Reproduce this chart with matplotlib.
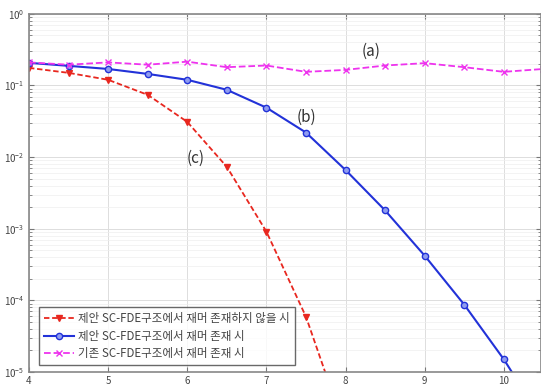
import matplotlib
matplotlib.use('Agg')
import matplotlib.pyplot as plt
import numpy as np

plt.rcParams['font.family'] = ['Noto Sans CJK KR', 'DejaVu Sans']

# SNR (dB) 축
snr = [4, 4.5, 5, 5.5, 6, 6.5, 7, 7.5, 8, 8.5, 9, 9.5, 10, 10.5]

# (a) 기존 SC-FDE구조에서 재머 존재 시
ber_a = [0.21, 0.195, 0.21, 0.195, 0.215, 0.18, 0.19, 0.155, 0.165, 0.19, 0.205, 0.18, 0.155, 0.17]
# (b) 제안 SC-FDE구조에서 재머 존재 시
ber_b = [0.207, 0.188, 0.17, 0.145, 0.12, 0.087, 0.049, 0.022, 0.0066, 0.0018, 4.2e-4, 8.7e-5, 1.5e-5, 2.0e-6]
# (c) 제안 SC-FDE구조에서 재머 존재하지 않을 시
snr_c = [4, 4.5, 5, 5.5, 6, 6.5, 7, 7.5, 8]
ber_c = [0.176, 0.15, 0.12, 0.074, 0.031, 0.0073, 9.1e-4, 5.9e-5, 1.5e-6]

labels = ['제안 SC-FDE구조에서 재머 존재하지 않을 시',
          '제안 SC-FDE구조에서 재머 존재 시',
          '기존 SC-FDE구조에서 재머 존재 시']

fig = plt.figure(figsize=(5.41, 3.85), dpi=100)
ax = fig.add_axes([0.0536, 0.034, 0.9464, 0.930])

ax.semilogy(snr_c, ber_c, linestyle=(0, (3, 1.5)), color='#e8271f', marker='v', markersize=4.5,
            markerfacecolor='#e8271f', linewidth=1.3, label=labels[0])
ax.semilogy(snr, ber_b, '-', color='#2232d8', marker='o', markersize=4.5,
            markerfacecolor='#8f9cf0', linewidth=1.5, label=labels[1])
ax.semilogy(snr, ber_a, '--', color='#ee33ee', marker='x', markersize=4.5,
            linewidth=1.3, label=labels[2])

ax.set_xlim(4, 10.47)
ax.set_ylim(1e-5, 1)
ax.set_xticks([4, 5, 6, 7, 8, 9, 10])
ax.grid(True, which='major', color='#dddddd', linewidth=0.7)
ax.grid(True, which='minor', color='#eeeeee', linewidth=0.5)
ax.tick_params(which='both', direction='in', top=True, right=True,
               labelsize=7, labelcolor='#444444', color='#777777')
ax.tick_params(axis='x', pad=3)
for s in ax.spines.values():
    s.set_color('#888888')
    s.set_linewidth(1.2)

ax.text(8.32, 0.26, '(a)', fontsize=11, color='#333333', ha='center')
ax.text(7.50, 0.031, '(b)', fontsize=11, color='#333333', ha='center')
ax.text(6.11, 0.0082, '(c)', fontsize=11, color='#333333', ha='center')

leg = ax.legend(loc='lower left', bbox_to_anchor=(0.019, 0.018),
                frameon=True, fancybox=False, edgecolor='#444444',
                handlelength=2.6, borderpad=0.45, labelspacing=0.4,
                handletextpad=0.4, borderaxespad=0,
                prop={'family': ['Noto Sans CJK KR', 'DejaVu Sans'], 'size': 8.3})
leg.get_frame().set_linewidth(1.0)
for t in leg.get_texts():
    t.set_color('#444444')

fig.savefig('out.png', dpi=100)
